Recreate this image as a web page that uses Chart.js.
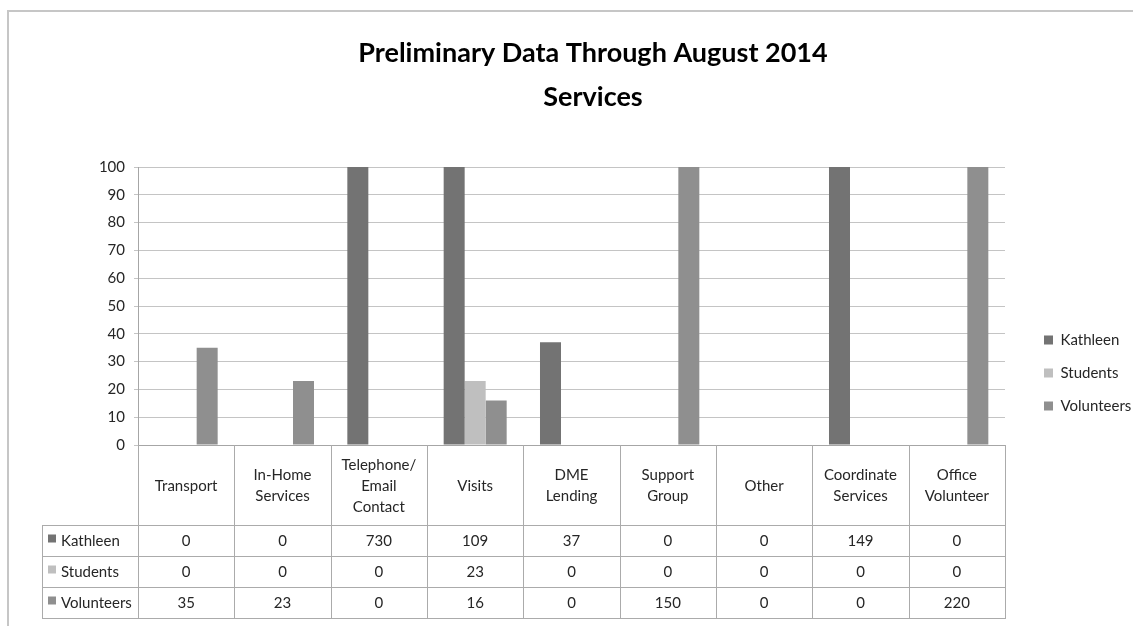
<!DOCTYPE html>
<html>
<head>
<meta charset="utf-8">
<script src="https://cdn.jsdelivr.net/npm/chart.js@4"></script>
<style>
  html, body { margin: 0; padding: 0; background: #ffffff; }
  #wrap { position: relative; width: 1133px; height: 626px; }
  canvas { display: block; }
</style>
</head>
<body>
<div id="wrap"><canvas id="c" width="1133" height="626"></canvas></div>
<script>
// ---- data ----
const titleLines = ['Preliminary Data Through August 2014', 'Services'];
const categories = [
  ['Transport'],
  ['In-Home', 'Services'],
  ['Telephone/', 'Email', 'Contact'],
  ['Visits'],
  ['DME', 'Lending'],
  ['Support', 'Group'],
  ['Other'],
  ['Coordinate', 'Services'],
  ['Office', 'Volunteer']
];
const seriesNames = ['Kathleen', 'Students', 'Volunteers'];
const kathleen   = [0, 0, 730, 109, 37, 0, 0, 149, 0];
const students   = [0, 0, 0, 23, 0, 0, 0, 0, 0];
const volunteers = [35, 23, 0, 16, 0, 150, 0, 0, 220];
const yMin = 0, yMax = 100, yStep = 10;

// ---- styling ----
const seriesColors = ['#737373', '#bfbfbf', '#8f8f8f'];
const FONT = 'Lato';
const TEXT = '#262626';
const LINE = '#ababab';
const GRID = '#c4c4c4';

const seriesValues = [kathleen, students, volunteers];

const frameAndTable = {
  id: 'frameAndTable',
  beforeDraw(chart) {
    const ctx = chart.ctx;
    ctx.save();
    ctx.strokeStyle = '#c6c6c6';
    ctx.lineWidth = 2;
    ctx.beginPath();
    ctx.moveTo(8, 626);
    ctx.lineTo(8, 11);
    ctx.lineTo(1133, 11);
    ctx.stroke();
    ctx.restore();
  },
  afterLayout(chart) {
    const t = chart.titleBlock;
    if (t) { t.left = 53; t.right = 1133; t.width = t.right - t.left; }
    const lg = chart.legend;
    if (lg) {
      lg.left = 1026; lg.right = 1133; lg.width = lg.right - lg.left;
      lg.top = 314.5; lg.bottom = 626; lg.height = lg.bottom - lg.top;
    }
  },
  afterDraw(chart) {
    const ctx = chart.ctx;
    const xs = chart.scales.x;
    const n = categories.length;
    const centers = categories.map((_, i) => xs.getPixelForValue(i));
    const bounds = [xs.left];
    for (let i = 1; i < n; i++) bounds.push((centers[i - 1] + centers[i]) / 2);
    bounds.push(xs.right);

    const top = xs.top;             // axis line
    const headerBottom = 525;
    const rowH = 31;
    const labelLeft = 42;
    const rows = seriesNames.length;
    const tableBottom = headerBottom + rows * rowH;

    ctx.save();
    ctx.strokeStyle = LINE;
    ctx.lineWidth = 1;
    ctx.beginPath();
    bounds.forEach(b => {
      const x = Math.round(b) + 0.5;
      ctx.moveTo(x, top);
      ctx.lineTo(x, tableBottom);
    });
    ctx.moveTo(labelLeft + 0.5, headerBottom);
    ctx.lineTo(labelLeft + 0.5, tableBottom);
    for (let r = 0; r <= rows; r++) {
      const y = headerBottom + r * rowH + 0.5;
      ctx.moveTo(labelLeft, y);
      ctx.lineTo(Math.round(xs.right) + 1, y);
    }
    ctx.stroke();

    ctx.fillStyle = TEXT;
    ctx.font = '15px ' + FONT;
    ctx.textAlign = 'center';
    ctx.textBaseline = 'middle';
    const lh = 21;
    const hc = (top + headerBottom) / 2 + 1;
    categories.forEach((lines, i) => {
      const y0 = hc - (lines.length - 1) * lh / 2;
      lines.forEach((s, k) => ctx.fillText(s, centers[i], y0 + k * lh));
    });
    seriesNames.forEach((name, r) => {
      const yc = headerBottom + r * rowH + rowH / 2 + 1;
      ctx.fillStyle = seriesColors[r];
      ctx.fillRect(48, yc - 7, 8, 8);
      ctx.fillStyle = TEXT;
      ctx.textAlign = 'left';
      ctx.fillText(name, 61, yc);
      ctx.textAlign = 'center';
      seriesValues[r].forEach((v, i) => ctx.fillText(String(v), centers[i], yc));
    });
    ctx.restore();
  }
};

Chart.defaults.font.family = FONT;
Chart.defaults.color = TEXT;

new Chart(document.getElementById('c'), {
  type: 'bar',
  data: {
    labels: categories,
    datasets: seriesNames.map((name, i) => ({
      label: name,
      data: seriesValues[i],
      backgroundColor: seriesColors[i],
      borderWidth: 0,
      categoryPercentage: 0.654,
      barPercentage: 1.0,
      clip: 0
    }))
  },
  options: {
    responsive: false,
    animation: false,
    devicePixelRatio: 1,
    layout: { padding: { left: 0, right: 128, top: 0, bottom: 8 } },
    plugins: {
      title: {
        display: true,
        text: titleLines,
        color: '#000000',
        font: { family: FONT, size: 27, weight: 'bold', lineHeight: '44px' },
        padding: { top: 31, bottom: 48 }
      },
      legend: {
        display: true,
        position: 'chartArea',
        align: 'start',
        labels: {
          boxWidth: 9,
          boxHeight: 9,
          padding: 18,
          color: TEXT,
          font: { family: FONT, size: 15 }
        }
      },
      tooltip: { enabled: false }
    },
    scales: {
      x: {
        grid: { display: false },
        ticks: { display: false },
        border: { display: true, color: '#a6a6a6' },
        afterFit(scale) { scale.height = 173; }
      },
      y: {
        min: yMin,
        max: yMax,
        ticks: { stepSize: yStep, padding: 9, color: TEXT, font: { family: FONT, size: 15 } },
        grid: { color: GRID, tickLength: 4, drawTicks: true },
        border: { display: true, color: '#a6a6a6' },
        afterFit(scale) { scale.width = 138; }
      }
    }
  },
  plugins: [frameAndTable]
});
</script>
</body>
</html>
